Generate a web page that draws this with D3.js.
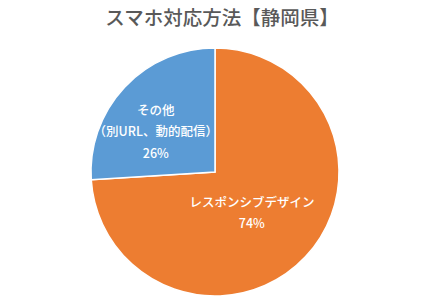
<!DOCTYPE html>
<html>
<head>
<meta charset="utf-8">
<script src="https://cdn.jsdelivr.net/npm/d3@7"></script>
<style>
  body { margin: 0; background: #fff; }
  svg { display: block; font-family: "Noto Sans CJK JP", "Noto Sans", sans-serif; }
</style>
</head>
<body>
<svg id="chart" width="431" height="300"></svg>
<script>
// data
const categories = ["レスポンシブデザイン", "その他（別URL、動的配信）"];
const shares = [74, 26];
const labelLines = [["レスポンシブデザイン"], ["その他", "（別URL、動的配信）"]];
const colors = ["#ED7D31", "#5B9BD5"];

const W = 431, H = 300;
const cx = 215, cy = 172, R = 124;
// label distance from centre, as share of the radius, plus a small nudge (Excel places them unevenly)
const labelPos = [0.43, 0.6];
const labelNudge = [[-2, 5], [-5, 11]];

const svg = d3.select("#chart");

svg.append("text")
  .attr("x", 222)
  .attr("y", 25)
  .attr("text-anchor", "middle")
  .attr("fill", "#595959")
  .style("font-size", "19.5px")
  .style("font-weight", "500")
  .text("スマホ対応方法【静岡県】");

const color = d3.scaleOrdinal().domain(categories).range(colors);

const pie = d3.pie()
  .value((d, i) => shares[i])
  .sort(null);

const arcs = pie(categories);
const arc = d3.arc().innerRadius(0).outerRadius(R);

const g = svg.append("g").attr("transform", `translate(${cx},${cy})`);

g.selectAll("path")
  .data(arcs)
  .join("path")
  .attr("d", arc)
  .attr("fill", d => color(d.data))
  .attr("stroke", "#fff")
  .attr("stroke-width", 1.5);

// labels
const lineH = 21.5;
arcs.forEach((d, i) => {
  const r = R * labelPos[i];
  const lab = d3.arc().innerRadius(r).outerRadius(r);
  let [x, y] = lab.centroid(d);
  x += labelNudge[i][0];
  y += labelNudge[i][1];
  const lines = labelLines[i].concat([shares[i] + "%"]);
  const t = g.append("text")
    .attr("text-anchor", "middle")
    .attr("fill", "#fff")
    .style("font-size", "12.5px")
    .style("font-weight", "500");
  lines.forEach((s, k) => {
    t.append("tspan")
      .attr("x", x)
      .attr("y", y + (k - (lines.length - 1) / 2) * lineH + 4)
      .text(s);
  });
});
</script>
</body>
</html>
